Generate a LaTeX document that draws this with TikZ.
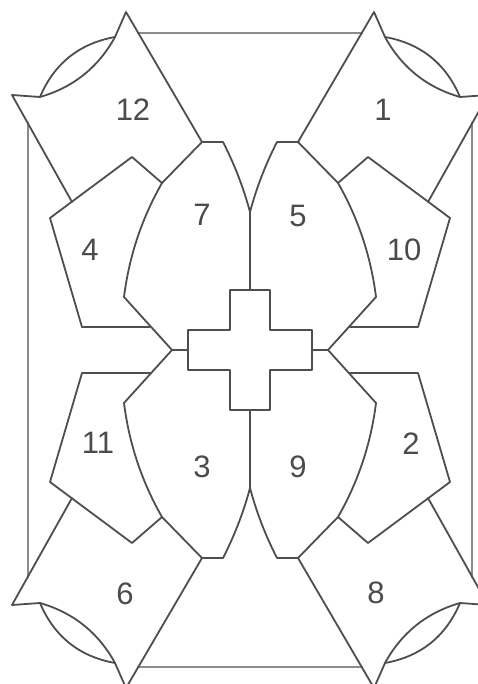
\documentclass[tikz,border=0pt]{standalone}
\usepackage{fontspec}
\setmainfont{Liberation Sans}
\definecolor{lineg}{RGB}{78,78,78}
\definecolor{frameg}{RGB}{140,140,140}
\definecolor{numg}{RGB}{75,75,75}
\newcommand\quarterframe{%
  \draw[frame] (137,33) -- (250,33);
  \draw[frame] (28,122) -- (28,350);
}
\newcommand\quarterlines{%
  % lens (outer arc)
  \draw[edge] (40,97) .. controls (54.2,63.5) and (79.2,43.5) .. (115,37);
  % kite
  \draw[edge] (72,202) -- (12,95) -- (40,97) .. controls (73.3,87.4) and (98.3,67.4) .. (115,37) -- (126,12) -- (202,142) -- (162,183);
  % pentagon
  \draw[edge] (162,183) -- (132,157) -- (50,218) -- (82,327) -- (150,327);
  % leaf
  \draw[edge] (202,142) -- (223,142) .. controls (234.5,164.4) and (243.5,187.7) .. (250,212) -- (250,290);
  \draw[edge] (162,183) .. controls (141.7,218.5) and (129.1,256.5) .. (124,297) -- (172,350) -- (188,350);
  % cross
  \draw[edge] (250,290) -- (230,290) -- (230,330) -- (188,330) -- (188,350);
}
\begin{document}
\begin{tikzpicture}[x=1pt,y=-1pt,
  edge/.style={draw=lineg, line width=1.8pt, line join=round, line cap=round},
  frame/.style={draw=frameg, line width=2.4pt},
  num/.style={font=\fontsize{31}{31}\selectfont, text=numg, inner sep=0pt}]
\useasboundingbox (0,0) rectangle (478,684);
\fill[white] (0,0) rectangle (478,684);
\clip (0,0) rectangle (478,684);
\quarterframe
\begin{scope}[shift={(500,0)},xscale=-1] \quarterframe \end{scope}
\begin{scope}[shift={(0,700)},yscale=-1] \quarterframe \end{scope}
\begin{scope}[shift={(500,700)},scale=-1] \quarterframe \end{scope}
\quarterlines
\begin{scope}[shift={(500,0)},xscale=-1] \quarterlines \end{scope}
\begin{scope}[shift={(0,700)},yscale=-1] \quarterlines \end{scope}
\begin{scope}[shift={(500,700)},scale=-1] \quarterlines \end{scope}
\node[num] (n12) at (133,110) {12};
\node[num] (n1) at (383,110) {1};
\node[num] (n7) at (202,215) {7};
\node[num] (n5) at (298,216) {5};
\node[num] (n4) at (90,250) {4};
\node[num] (n10) at (404,250) {10};
\node[num] (n11) at (98,443) {11};
\node[num] (n2) at (411,444) {2};
\node[num] (n3) at (202,467) {3};
\node[num] (n9) at (298,467) {9};
\node[num] (n6) at (125,594) {6};
\node[num] (n8) at (376,593) {8};
\end{tikzpicture}
\end{document}
